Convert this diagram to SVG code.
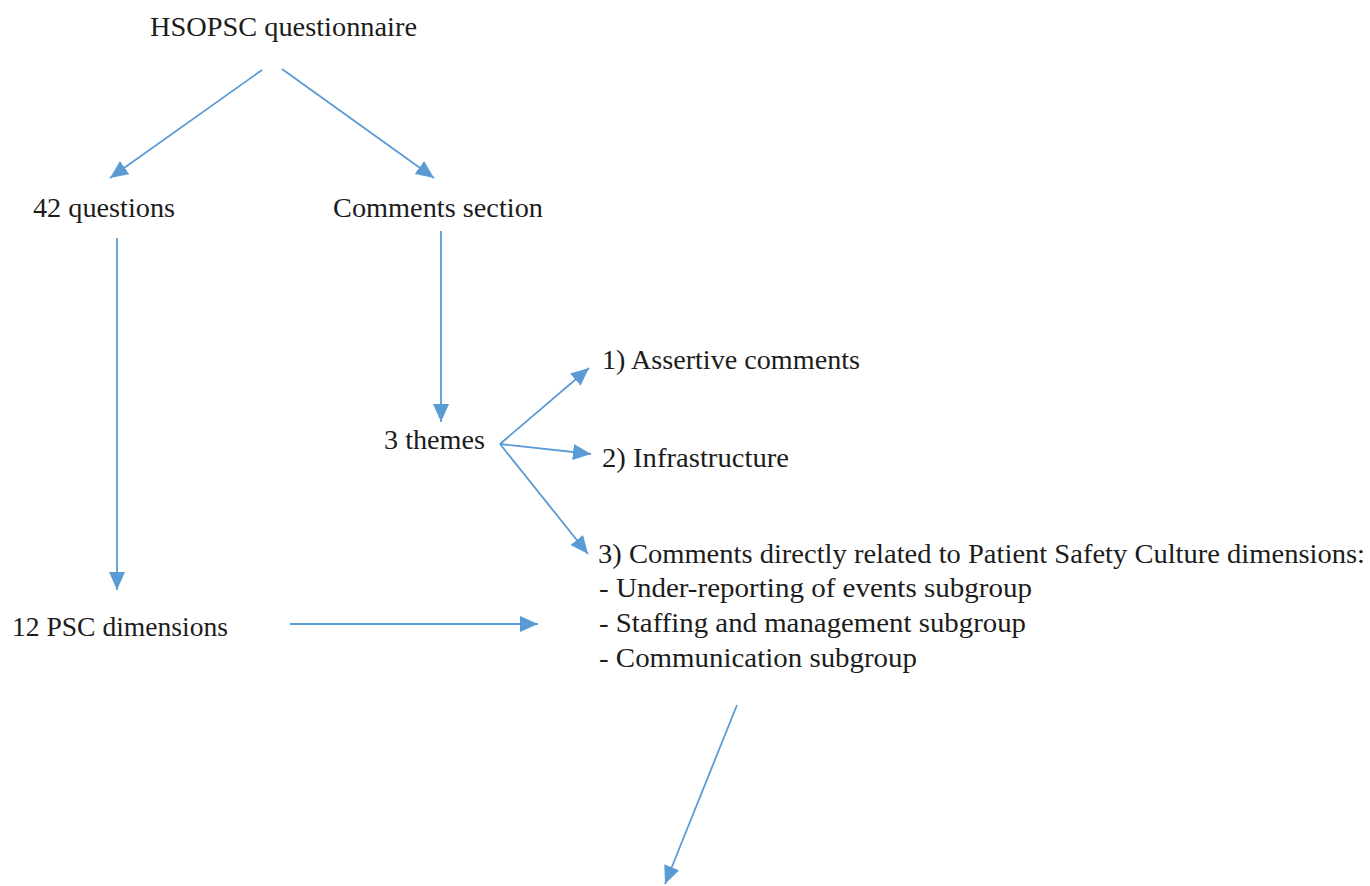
<svg xmlns="http://www.w3.org/2000/svg" width="1370" height="886" viewBox="0 0 1370 886">
  <defs>
    <marker id="arrow" markerUnits="userSpaceOnUse" markerWidth="19" markerHeight="16" refX="18" refY="8" orient="auto">
      <path d="M0,0 L18,8 L0,16 z" fill="#5b9bd5"/>
    </marker>
    <style>
      .t { font-family: "Liberation Serif", "DejaVu Serif", serif; font-size: 27.5px; fill: #1c1c1c; }
      .c { stroke: #5b9bd5; stroke-width: 1.8; fill: none; marker-end: url(#arrow); }
    </style>
  </defs>
  <rect width="1370" height="886" fill="#ffffff"/>

  <g id="connectors">
    <line class="c" x1="262" y1="70" x2="110" y2="178"/>
    <line class="c" x1="282" y1="69" x2="434" y2="178"/>
    <line class="c" x1="117" y1="238" x2="117" y2="590"/>
    <line class="c" x1="441" y1="231" x2="441" y2="422"/>
    <line class="c" x1="500" y1="444" x2="589" y2="368"/>
    <line class="c" x1="500" y1="444" x2="591" y2="454"/>
    <line class="c" x1="500" y1="444" x2="588" y2="554"/>
    <line class="c" x1="290" y1="624" x2="538" y2="624"/>
    <line class="c" x1="737" y1="705" x2="665" y2="884"/>
  </g>

  <g id="node-hsopsc">
    <text class="t" x="150" y="36" textLength="267" lengthAdjust="spacingAndGlyphs">HSOPSC questionnaire</text>
  </g>
  <g id="node-42-questions">
    <text class="t" x="33" y="217" textLength="142" lengthAdjust="spacingAndGlyphs">42 questions</text>
  </g>
  <g id="node-comments-section">
    <text class="t" x="333" y="217" textLength="210" lengthAdjust="spacingAndGlyphs">Comments section</text>
  </g>
  <g id="node-3-themes">
    <text class="t" x="384" y="449" textLength="101" lengthAdjust="spacingAndGlyphs">3 themes</text>
  </g>
  <g id="node-assertive">
    <text class="t" x="602" y="369" textLength="258" lengthAdjust="spacingAndGlyphs">1) Assertive comments</text>
  </g>
  <g id="node-infrastructure">
    <text class="t" x="602" y="467" textLength="187" lengthAdjust="spacingAndGlyphs">2) Infrastructure</text>
  </g>
  <g id="node-psc-comments">
    <text class="t" x="598" y="563" textLength="767" lengthAdjust="spacingAndGlyphs">3) Comments directly related to Patient Safety Culture dimensions:</text>
    <text class="t" x="599" y="597" textLength="433" lengthAdjust="spacingAndGlyphs">- Under-reporting of events subgroup</text>
    <text class="t" x="599" y="632" textLength="427" lengthAdjust="spacingAndGlyphs">- Staffing and management subgroup</text>
    <text class="t" x="599" y="667" textLength="318" lengthAdjust="spacingAndGlyphs">- Communication subgroup</text>
  </g>
  <g id="node-12-psc">
    <text class="t" x="12" y="636" textLength="216" lengthAdjust="spacingAndGlyphs">12 PSC dimensions</text>
  </g>
</svg>
